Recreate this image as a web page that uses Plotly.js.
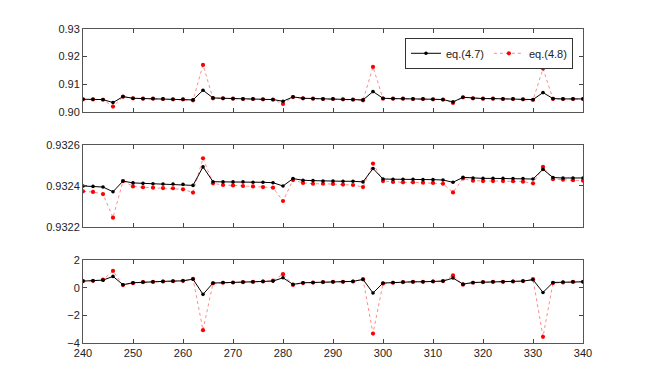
<!DOCTYPE html>
<html>
<head>
<meta charset="utf-8">
<script src="https://cdn.plot.ly/plotly-3.0.1.min.js"></script>
<style>html,body{margin:0;padding:0;background:#fff}#chart{width:645px;height:386px}</style>
</head>
<body>
<div id="chart"></div>
<script>
var xVals = [240,242,244,246,248,250,252,254,256,258,260,262,264,266,268,270,272,274,276,278,280,282,284,286,288,290,292,294,296,298,300,302,304,306,308,310,312,314,316,318,320,322,324,326,328,330,332,334,336,338,340];

var topEq47 = [0.90458,0.90458,0.90446,0.90337,0.90554,0.90494,0.90482,0.90482,0.90470,0.90458,0.90458,0.90434,0.90783,0.90506,0.90494,0.90482,0.90470,0.90470,0.90458,0.90446,0.90386,0.90542,0.90494,0.90482,0.90470,0.90470,0.90458,0.90446,0.90434,0.90735,0.90494,0.90482,0.90482,0.90470,0.90470,0.90458,0.90446,0.90361,0.90530,0.90494,0.90482,0.90482,0.90470,0.90470,0.90458,0.90446,0.90699,0.90482,0.90470,0.90470,0.90470];
var topEq48 = [0.90455,0.90452,0.90440,0.90193,0.90550,0.90490,0.90478,0.90478,0.90466,0.90454,0.90452,0.90420,0.91699,0.90490,0.90490,0.90478,0.90466,0.90466,0.90454,0.90442,0.90289,0.90538,0.90490,0.90478,0.90466,0.90466,0.90454,0.90442,0.90420,0.91627,0.90480,0.90478,0.90478,0.90466,0.90466,0.90454,0.90442,0.90325,0.90526,0.90490,0.90478,0.90478,0.90466,0.90466,0.90454,0.90430,0.91566,0.90470,0.90466,0.90466,0.90466];

var midEq47 = [0.932400,0.932398,0.932395,0.932372,0.932424,0.932415,0.932413,0.932411,0.932410,0.932410,0.932408,0.932403,0.932493,0.932421,0.932420,0.932420,0.932420,0.932418,0.932418,0.932416,0.932400,0.932436,0.932428,0.932426,0.932424,0.932424,0.932423,0.932423,0.932420,0.932485,0.932434,0.932433,0.932433,0.932433,0.932431,0.932431,0.932429,0.932418,0.932442,0.932439,0.932437,0.932437,0.932437,0.932436,0.932436,0.932434,0.932481,0.932441,0.932439,0.932439,0.932439];
var midEq48 = [0.932374,0.932371,0.932361,0.932246,0.932424,0.932398,0.932394,0.932392,0.932390,0.932389,0.932384,0.932368,0.932535,0.932413,0.932405,0.932403,0.932400,0.932398,0.932395,0.932392,0.932327,0.932429,0.932415,0.932411,0.932411,0.932410,0.932407,0.932405,0.932395,0.932509,0.932424,0.932420,0.932418,0.932418,0.932416,0.932415,0.932411,0.932369,0.932437,0.932426,0.932424,0.932424,0.932424,0.932423,0.932421,0.932413,0.932493,0.932433,0.932431,0.932428,0.932426];

var botEq47 = [0.48,0.50,0.55,0.82,0.22,0.36,0.41,0.43,0.46,0.48,0.50,0.62,-0.48,0.34,0.38,0.38,0.41,0.43,0.46,0.48,0.72,0.24,0.36,0.38,0.41,0.43,0.43,0.46,0.60,-0.38,0.34,0.38,0.41,0.43,0.43,0.46,0.48,0.70,0.26,0.38,0.41,0.43,0.43,0.46,0.48,0.58,-0.34,0.38,0.41,0.43,0.43];
var botEq48 = [0.48,0.50,0.58,1.22,0.19,0.33,0.40,0.42,0.45,0.47,0.50,0.65,-3.07,0.32,0.36,0.38,0.40,0.42,0.45,0.52,0.98,0.20,0.34,0.37,0.40,0.42,0.43,0.45,0.62,-3.32,0.30,0.36,0.40,0.42,0.43,0.45,0.48,0.89,0.22,0.36,0.40,0.42,0.43,0.45,0.48,0.62,-3.55,0.34,0.38,0.42,0.43];

var xTicks = [240,250,260,270,280,290,300,310,320,330,340];
var topTicks = [0.90,0.91,0.92,0.93];
var midTicks = [0.9322,0.9324,0.9326];
var botTicks = [-4,-2,0,2];
var seriesNames = ['eq.(4.7)','eq.(4.8)'];

function redTrace(y, xa, ya, show) {
  return {x: xVals, y: y, xaxis: xa, yaxis: ya, type: 'scatter', mode: 'lines+markers',
    name: seriesNames[1], showlegend: show, legendrank: 2,
    line: {color: 'rgba(255,60,60,0.75)', width: 0.8, dash: 'dot'},
    marker: {color: '#ff0000', size: 4.2}};
}
function blackTrace(y, xa, ya, show) {
  return {x: xVals, y: y, xaxis: xa, yaxis: ya, type: 'scatter', mode: 'lines+markers',
    name: seriesNames[0], showlegend: show, legendrank: 1,
    line: {color: '#000000', width: 1},
    marker: {color: '#000000', size: 3.6}};
}

var data = [
  redTrace(topEq48, 'x', 'y', true), blackTrace(topEq47, 'x', 'y', true),
  redTrace(midEq48, 'x2', 'y2', false), blackTrace(midEq47, 'x2', 'y2', false),
  redTrace(botEq48, 'x3', 'y3', false), blackTrace(botEq47, 'x3', 'y3', false)
];

var font = {family: 'Liberation Sans, Arial, sans-serif', size: 11, color: '#222'};
function xa(showLabels, anchor) {
  return {range: [240, 340], tickvals: xTicks, showticklabels: showLabels, ticks: 'inside', ticklen: 4,
    tickcolor: '#444', showline: true, linecolor: '#555', linewidth: 1, mirror: 'ticks',
    showgrid: false, zeroline: false, anchor: anchor, domain: [0, 1], tickfont: font};
}
function ya(range, ticks, fmt, domain, anchor) {
  return {range: range, tickvals: ticks, tickformat: fmt, ticks: 'inside', ticklen: 4,
    tickcolor: '#444', showline: true, linecolor: '#555', linewidth: 1, mirror: 'ticks',
    showgrid: false, zeroline: false, domain: domain, anchor: anchor, tickfont: font};
}

var layout = {
  width: 645, height: 386,
  margin: {l: 83, r: 62, t: 29, b: 43},
  paper_bgcolor: '#fff', plot_bgcolor: '#fff',
  font: font,
  showlegend: true,
  legend: {orientation: 'h', x: 0.98, xanchor: 'right', y: 0.972, yanchor: 'top',
    bgcolor: '#fff', bordercolor: '#333', borderwidth: 1, font: font,
    traceorder: 'normal', itemwidth: 30},
  xaxis: xa(false, 'y'),
  yaxis: ya([0.90, 0.93], topTicks, '.2f', [0.736, 1], 'x'),
  xaxis2: xa(false, 'y2'),
  yaxis2: ya([0.9322, 0.9326], midTicks, '.4f', [0.369, 0.631], 'x2'),
  xaxis3: xa(true, 'y3'),
  yaxis3: ya([-4, 2], botTicks, 'd', [0, 0.264], 'x3')
};

Plotly.newPlot('chart', data, layout, {displayModeBar: false, staticPlot: true});
</script>
</body>
</html>
